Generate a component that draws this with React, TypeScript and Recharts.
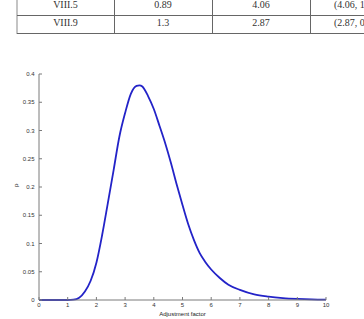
import { LineChart, Line, XAxis, YAxis } from "recharts";

// table fragment above the figure
const ROW_IDS = ["VIII.5", "VIII.9"];
const ROW_COL2 = ["0.89", "1.3"];
const ROW_COL3 = ["4.06", "2.87"];
const ROW_COL4 = ["(4.06, 1", "(2.87, 0"];

// density curve
const FACTOR = [
  0, 0.5, 1.0, 1.2, 1.4, 1.6, 1.8, 2.0, 2.2, 2.4, 2.6, 2.8, 3.0, 3.2, 3.4, 3.5,
  3.6, 3.8, 4.0, 4.2, 4.4, 4.6, 4.8, 5.0, 5.2, 5.4, 5.6, 5.8, 6.0, 6.3, 6.6,
  7.0, 7.5, 8.0, 8.5, 9.0, 9.5, 10,
];
const DENSITY = [
  0, 0, 0, 0.0005, 0.004, 0.015, 0.034, 0.066, 0.115, 0.172, 0.23, 0.289,
  0.331, 0.365, 0.379, 0.38, 0.378, 0.361, 0.338, 0.308, 0.277, 0.242, 0.204,
  0.168, 0.134, 0.106, 0.083, 0.067, 0.054, 0.039, 0.027, 0.018, 0.01, 0.006,
  0.0035, 0.002, 0.001, 0.0005,
];

const X_TICKS = [0, 1, 2, 3, 4, 5, 6, 7, 8, 9, 10];
const Y_TICKS = [0, 0.05, 0.1, 0.15, 0.2, 0.25, 0.3, 0.35, 0.4];

const TITLE = "Adjustment factor: Exceedance Frequency 1E-4/a";

const FONT = "'Liberation Sans', Arial, sans-serif";
const SERIF = "'Liberation Serif', 'Times New Roman', serif";
const AXIS = "#7a7a7a";
const tickStyle = { fontSize: 6, fill: "#333", fontFamily: FONT };

const data = FACTOR.map((x, i) => ({ x, p: DENSITY[i] }));

const COL_X = [17, 114, 212, 310];
const COL_CENTER = [65.5, 163, 261];

function TableFragment() {
  const rowTops = [0, 17.6];
  const cellText = {
    position: "absolute" as const,
    height: 12,
    lineHeight: "10px",
    fontSize: 10,
    color: "#333",
    fontFamily: SERIF,
    whiteSpace: "nowrap" as const,
  };
  return (
    <>
      <div style={{ position: "absolute", left: 16, top: 0, width: 2, height: 34, background: "#c4c4c4" }} />
      {COL_X.slice(1).map((x) => (
        <div key={x} style={{ position: "absolute", left: x, top: 0, width: 1, height: 34, background: "#666" }} />
      ))}
      {[15, 33].map((y) => (
        <div key={y} style={{ position: "absolute", left: 17, top: y, width: 347, height: 1, background: "#666" }} />
      ))}
      {ROW_IDS.map((id, r) => {
        const cells = [id, ROW_COL2[r], ROW_COL3[r]];
        return (
          <div key={id}>
            {cells.map((t, c) => (
              <div
                key={c}
                style={{ ...cellText, left: COL_CENTER[c] - 40, width: 80, top: rowTops[r], textAlign: "center" }}
              >
                {t}
              </div>
            ))}
            <div style={{ ...cellText, left: 334, top: rowTops[r] }}>{ROW_COL4[r]}</div>
          </div>
        );
      })}
    </>
  );
}

export default function App() {
  return (
    <div
      style={{
        position: "absolute",
        left: 0,
        top: 0,
        width: 364,
        height: 319,
        overflow: "hidden",
        background: "#fff",
      }}
    >
      <TableFragment />
      <div style={{ position: "absolute", left: 0, top: 0 }}>
        <LineChart
          width={364}
          height={319}
          data={data}
          margin={{ top: 74, right: 38, bottom: 0, left: 9 }}
        >
          <XAxis
            xAxisId="bottom"
            dataKey="x"
            type="number"
            domain={[0, 10]}
            ticks={X_TICKS}
            height={19}
            stroke={AXIS}
            tickSize={-3}
            tickMargin={5.5}
            tick={tickStyle}
            label={{
              value: "Adjustment factor",
              position: "insideBottom",
              offset: 3.5,
              style: { fontSize: 6, fill: "#222", fontFamily: FONT },
            }}
          />
          <XAxis
            xAxisId="top"
            orientation="top"
            dataKey="x"
            type="number"
            domain={[0, 10]}
            ticks={X_TICKS}
            height={0}
            stroke={AXIS}
            tickSize={-3}
            tickFormatter={() => ""}
            label={{
              value: TITLE,
              position: "top",
              offset: 6.5,
              style: { fontSize: 6.3, fill: "#222", fontFamily: FONT },
            }}
          />
          <YAxis
            yAxisId="left"
            type="number"
            domain={[0, 0.4]}
            ticks={Y_TICKS}
            width={30}
            stroke={AXIS}
            tickSize={-3}
            tickMargin={7.5}
            tick={tickStyle}
            label={{
              value: "p",
              angle: -90,
              position: "insideLeft",
              offset: 7,
              style: { fontSize: 6.2, fill: "#222", fontFamily: FONT },
            }}
          />
          <YAxis
            yAxisId="right"
            orientation="right"
            type="number"
            domain={[0, 0.4]}
            ticks={Y_TICKS}
            width={0}
            stroke={AXIS}
            tickSize={-3}
            tickFormatter={() => ""}
          />
          <Line
            xAxisId="bottom"
            yAxisId="left"
            type="monotone"
            dataKey="p"
            stroke="#2323c8"
            strokeWidth={1.8}
            dot={false}
            isAnimationActive={false}
          />
        </LineChart>
      </div>
    </div>
  );
}
